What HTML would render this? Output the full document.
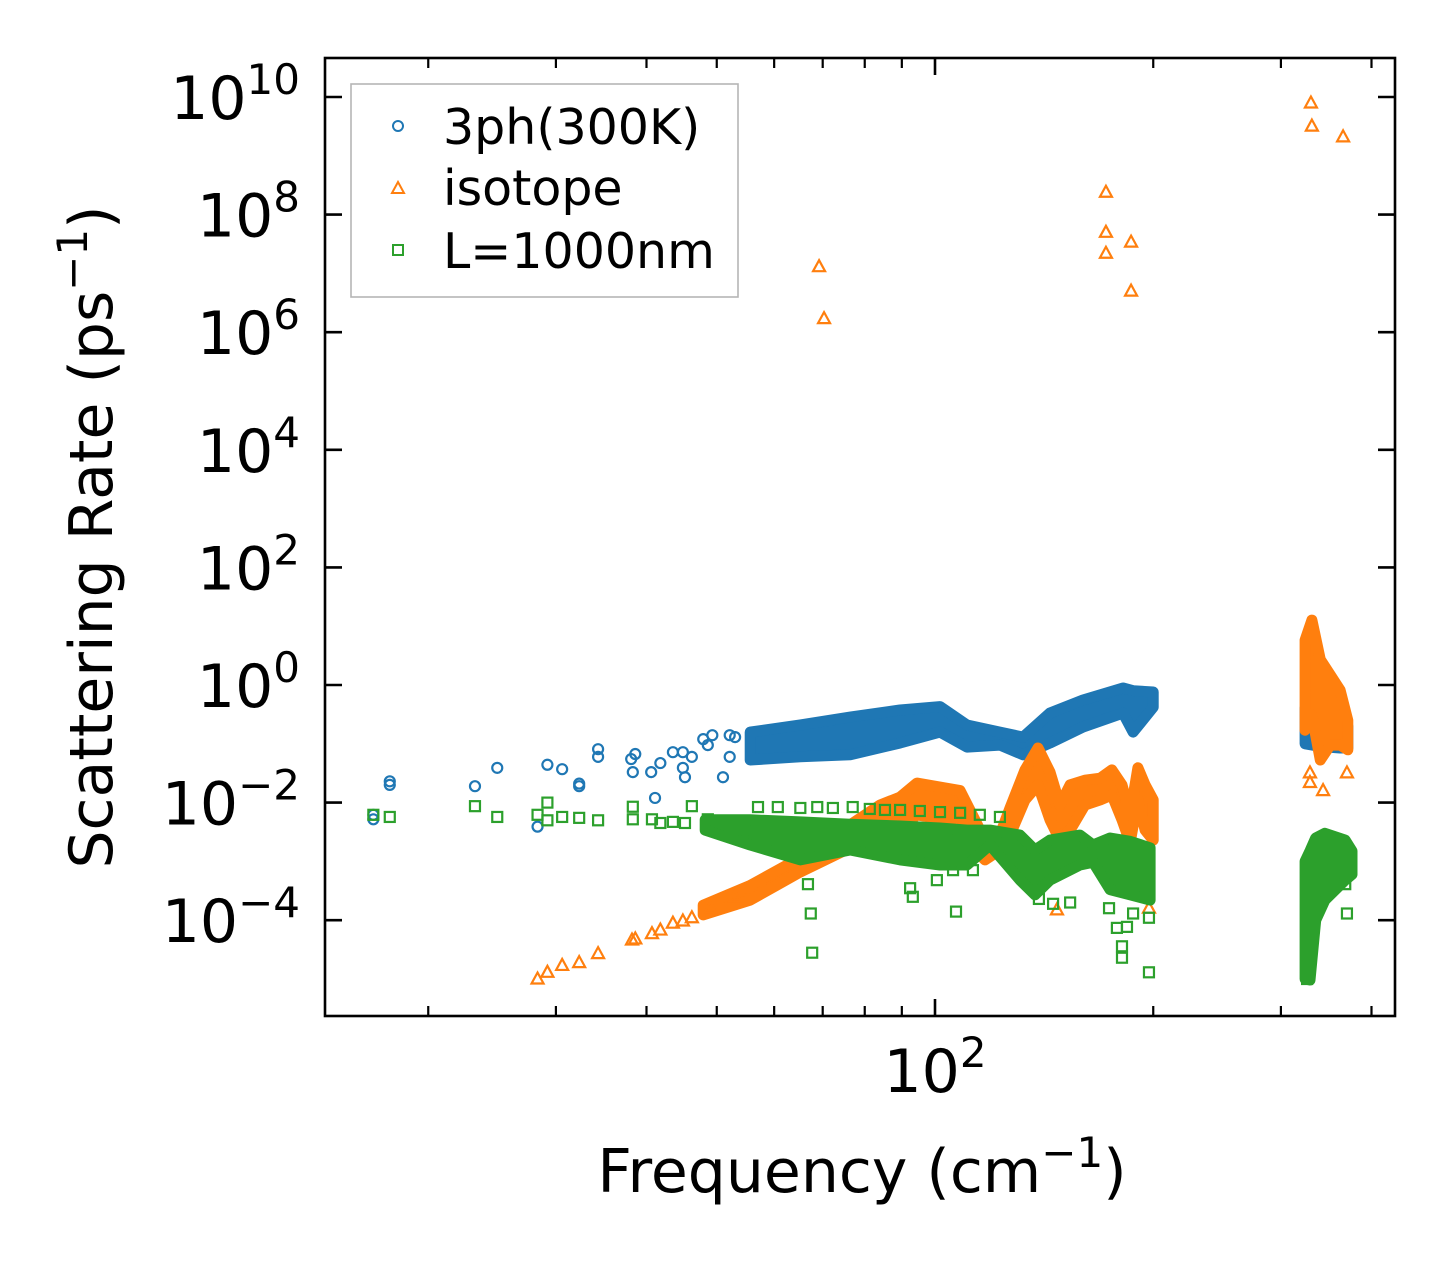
<!DOCTYPE html>
<html>
<head>
<meta charset="utf-8">
<style>
html,body{margin:0;padding:0;background:#fff;}
svg{display:block;}
text{font-family:"DejaVu Sans","Liberation Sans",sans-serif;fill:#000;}
</style>
</head>
<body>
<svg id="chart" width="1455" height="1265" viewBox="0 0 1455 1265" xmlns="http://www.w3.org/2000/svg">
  <rect x="0" y="0" width="1455" height="1265" fill="#fff"/>
  <g id="marks"></g>
  <g id="axes"></g>
  <text x="862" y="1192" font-size="60" text-anchor="middle">Frequency (cm<tspan font-size="42" dy="-25">−1</tspan><tspan dy="25">)</tspan></text>
  <text transform="translate(112,537) rotate(-90)" font-size="60" text-anchor="middle">Scattering Rate (ps<tspan font-size="42" dy="-25">−1</tspan><tspan dy="25">)</tspan></text>
  <g>
    <rect x="351" y="84" width="387" height="213" fill="#fff" stroke="#b5b5b5" stroke-width="1.6"/>
    <circle cx="398" cy="126" r="5" fill="none" stroke="#1f77b4" stroke-width="2"/>
    <text x="443" y="144" font-size="49">3ph(300K)</text>
    <polygon points="398,182 404,193 392,193" fill="none" stroke="#ff7f0e" stroke-width="2"/>
    <text x="443" y="205" font-size="49">isotope</text>
    <rect x="393" y="245" width="10" height="10" fill="none" stroke="#2ca02c" stroke-width="2"/>
    <text x="443" y="268" font-size="49">L=1000nm</text>
  </g>
</svg>
<script>
// ---------- data ----------
const blueFreq = [16.8,16.8,17.7,17.7,23.2,24.9,28.3,29.2,30.6,32.3,32.3,34.3,34.3,38.1,38.6,38.3,41.1,40.6,41.8,43.5,44.9,46.2,44.9,45.2,49.3,48.6,52.1,52.1,51.0,53.0,47.9];
const blueRate = [5.2e-3,6.2e-3,2.0e-2,2.3e-2,1.9e-2,3.9e-2,3.9e-3,4.4e-2,3.7e-2,1.9e-2,2.1e-2,8.1e-2,6.0e-2,5.5e-2,6.7e-2,3.3e-2,1.2e-2,3.3e-2,4.7e-2,7.2e-2,7.2e-2,6.0e-2,3.9e-2,2.7e-2,0.14,9.5e-2,0.14,6.0e-2,2.7e-2,0.13,0.12];
const blueBandFreq = [55.6,65.2,76.4,89.5,101.6,110.7,122.9,132.3,144.1,160,181.7,187.6,200];
const blueBandLo = [0.053,0.060,0.065,0.103,0.158,0.088,0.095,0.065,0.103,0.193,0.334,0.158,0.42];
const blueBandHi = [0.158,0.209,0.286,0.376,0.43,0.209,0.158,0.13,0.334,0.556,0.89,0.8,0.76];
const blueBand2Freq = [324,340,362,371];
const blueBand2Lo = [0.1,0.09,0.085,0.085];
const blueBand2Hi = [0.4,0.3,0.25,0.2];

const isoFreq = [28.3,29.2,30.6,32.3,34.3,38.2,38.6,40.7,41.8,43.5,44.9,46.2,49.0,52.1,53.0,55.0,330,331,365.5,172.1,172.1,172.1,186.4,186.4,69.2,70.3,329,329,343,370,147.3,197.3];
const isoRate = [1.0e-5,1.3e-5,1.7e-5,1.9e-5,2.7e-5,4.6e-5,4.8e-5,5.9e-5,6.8e-5,8.9e-5,9.7e-5,1.1e-4,1.6e-4,2.0e-4,2.5e-4,3.2e-4,7.9e9,3.2e9,2.1e9,2.4e8,5.0e7,2.2e7,3.4e7,5.0e6,1.3e7,1.7e6,0.032,0.022,0.016,0.032,1.5e-4,1.6e-4];
const isoBandFreq = [47.9,55.6,65.2,76.4,84,89.5,94.4,103.2,108.3,113.5,117.2,122.9,126.9,133.1,138.7,144.1,148.7,153.6,161,169,175.4,181.1,185.8,190.5,194.9,200];
const isoBandHi = [1.8e-4,3.9e-4,1.15e-3,4.2e-3,9.1e-3,1.24e-2,2.15e-2,1.78e-2,1.6e-2,5.1e-3,2.3e-3,2.8e-3,8.1e-3,3.6e-2,8.5e-2,3.3e-2,9.1e-3,2.0e-2,2.4e-2,2.6e-2,3.6e-2,2.0e-2,6.2e-3,3.9e-2,2.0e-2,1.11e-2];
const isoBandLo = [1.23e-4,2.2e-4,6.6e-4,1.7e-3,2.3e-3,3.4e-3,6.2e-3,5.1e-3,5.5e-3,1.56e-3,1.06e-3,1.56e-3,2.8e-3,1.11e-2,2.0e-2,5.1e-3,2.3e-3,3.4e-3,9.1e-3,1.11e-2,1.35e-2,5.1e-3,2.1e-3,1.11e-2,3.4e-3,2.3e-3];
const isoBand2Freq = [324,331,340,351,362,371];
const isoBand2Lo = [0.17,0.31,0.053,0.095,0.095,0.079];
const isoBand2Hi = [5.8,12.7,2.7,1.48,0.82,0.25];

const bndFreq = [16.8,17.7,23.2,24.9,28.3,29.2,29.2,30.6,32.3,34.3,38.3,38.3,40.7,41.8,43.5,45.2,46.2,48.6,52.1,54.7,
  57,60.7,65.2,68.8,72.3,77,81.3,85.3,89.5,95.3,101.6,108.3,115.3,122.9,
  66.8,67.4,67.7,92.4,93.2,100.6,106.9,112.8,105.9,139.1,145.5,153.6,173.8,178.2,181.1,181.1,197.3,197.3,184,187.6,
  370,368,329,326];
const bndRate = [6.2e-3,5.7e-3,8.7e-3,5.7e-3,6.2e-3,1.0e-2,5.0e-3,5.7e-3,5.5e-3,5.0e-3,8.5e-3,5.2e-3,5.2e-3,4.5e-3,4.7e-3,4.5e-3,8.7e-3,5.2e-3,4.2e-3,3.2e-3,
  8.4e-3,8.4e-3,8.1e-3,8.4e-3,8.1e-3,8.4e-3,7.8e-3,7.5e-3,7.5e-3,7.2e-3,6.9e-3,6.7e-3,6.2e-3,5.7e-3,
  4.1e-4,1.3e-4,2.8e-5,3.5e-4,2.5e-4,4.8e-4,1.4e-4,7.1e-4,7.1e-4,2.3e-4,1.9e-4,2.0e-4,1.6e-4,7.4e-5,3.6e-5,2.3e-5,1.3e-5,1.1e-4,7.7e-5,1.3e-4,
  1.3e-4,4.1e-4,2.3e-5,1.0e-5];
const bndBandFreq = [48.2,55.6,65.2,76.4,89.5,101.6,110.7,119.1,131,137.4,144.1,158.5,165.2,174.4,185.8,198];
const bndBandHi = [5.1e-3,5.1e-3,4.7e-3,4.3e-3,4.0e-3,3.7e-3,3.4e-3,3.4e-3,2.8e-3,1.56e-3,2.3e-3,2.8e-3,1.9e-3,2.5e-3,2.2e-3,1.7e-3];
const bndBandLo = [3.4e-3,1.9e-3,1.06e-3,1.56e-3,1.06e-3,8.7e-4,8.7e-4,1.9e-3,4.8e-4,2.7e-4,4.8e-4,8.7e-4,9.7e-4,3.3e-4,2.7e-4,2.2e-4];
const bndBand2Freq = [324,329,335,345,368,376];
const bndBand2Hi = [1.0e-3,1.5e-3,2.5e-3,3.0e-3,2.3e-3,1.5e-3];
const bndBand2Lo = [1.0e-5,9.6e-6,1.0e-4,2.2e-4,4.8e-4,6.0e-4];

const yTickExps = [-4,-2,0,2,4,6,8,10];
const xMinorTicks = [20,30,40,50,60,70,80,90,200,300,400];
const xMajorTicks = [100];

// ---------- axes ----------
const L=325,R=1395,T=58,B=1016;
function xs(f){return 935+725*Math.log10(f/100);}
function ys(v){return 685-58.8*Math.log10(v);}
const NS="http://www.w3.org/2000/svg";
const marks=document.getElementById('marks');
const axes=document.getElementById('axes');
function mk(tag,attrs,parent){const e=document.createElementNS(NS,tag);for(const k in attrs)e.setAttribute(k,attrs[k]);parent.appendChild(e);return e;}

function band(fr,lo,hi,color,name){
  const pts=[];
  for(let i=0;i<fr.length;i++)pts.push(xs(fr[i]).toFixed(1)+','+ys(hi[i]).toFixed(1));
  for(let i=fr.length-1;i>=0;i--)pts.push(xs(fr[i]).toFixed(1)+','+ys(lo[i]).toFixed(1));
  const p=mk('polygon',{points:pts.join(' '),fill:color,stroke:color,'stroke-width':11,'stroke-linejoin':'round'},marks);
  
  
}
function circles(fr,v,color,name){
  for(let i=0;i<fr.length;i++){
    const c=mk('circle',{cx:xs(fr[i]),cy:ys(v[i]),r:5,fill:'none',stroke:color,'stroke-width':2.2},marks);
    
    
  }
}
function tris(fr,v,color,name){
  for(let i=0;i<fr.length;i++){
    const x=xs(fr[i]),y=ys(v[i]);
    const t=mk('polygon',{points:`${x},${y-6.5} ${x+6},${y+4.5} ${x-6},${y+4.5}`,fill:'none',stroke:color,'stroke-width':2.2},marks);
    
    
  }
}
function squares(fr,v,color,name){
  for(let i=0;i<fr.length;i++){
    const s=mk('rect',{x:xs(fr[i])-5,y:ys(v[i])-5,width:10,height:10,fill:'none',stroke:color,'stroke-width':2.2},marks);
    
    
  }
}
const BLUE='#1f77b4',ORANGE='#ff7f0e',GREEN='#2ca02c';
band(blueBandFreq,blueBandLo,blueBandHi,BLUE,'3ph-dense-band');
band(blueBand2Freq,blueBand2Lo,blueBand2Hi,BLUE,'3ph-dense-band-high');
circles(blueFreq,blueRate,BLUE,'3ph-point');
band(isoBandFreq,isoBandLo,isoBandHi,ORANGE,'isotope-dense-band');
band(isoBand2Freq,isoBand2Lo,isoBand2Hi,ORANGE,'isotope-dense-band-high');
tris(isoFreq,isoRate,ORANGE,'isotope-point');
band(bndBandFreq,bndBandLo,bndBandHi,GREEN,'boundary-dense-band');
band(bndBand2Freq,bndBand2Lo,bndBand2Hi,GREEN,'boundary-dense-band-high');
squares(bndFreq,bndRate,GREEN,'boundary-point');

// frame
const fr=mk('rect',{x:L,y:T,width:R-L,height:B-T,fill:'none',stroke:'#000','stroke-width':2.6},axes);



yTickExps.forEach(e=>{
  const y=ys(Math.pow(10,e));
  const t1=mk('line',{x1:L,x2:L+17,y1:y,y2:y,stroke:'#000','stroke-width':2.6},axes);
  
  
  const t2=mk('line',{x1:R,x2:R-17,y1:y,y2:y,stroke:'#000','stroke-width':2.6},axes);
  
  
  const tx=mk('text',{x:300,y:y+22,'font-size':60,'text-anchor':'end'},axes);
  
  
  tx.appendChild(document.createTextNode('10'));
  const sp=mk('tspan',{'font-size':42,dy:-25},tx);
  sp.textContent=(e<0?'−':'')+Math.abs(e);
});
xMinorTicks.forEach(f=>{
  const x=xs(f);
  const a=mk('line',{x1:x,x2:x,y1:B,y2:B-10,stroke:'#000','stroke-width':2.2},axes);
  
  
  const b=mk('line',{x1:x,x2:x,y1:T,y2:T+10,stroke:'#000','stroke-width':2.2},axes);
  
  
});
xMajorTicks.forEach(f=>{
  const x=xs(f);
  const a=mk('line',{x1:x,x2:x,y1:B,y2:B-17,stroke:'#000','stroke-width':2.6},axes);
  
  
  const b=mk('line',{x1:x,x2:x,y1:T,y2:T+17,stroke:'#000','stroke-width':2.6},axes);
  
  
  const tx=mk('text',{x:x,y:1092,'font-size':60,'text-anchor':'middle'},axes);
  
  
  tx.appendChild(document.createTextNode('10'));
  const sp=mk('tspan',{'font-size':42,dy:-25},tx);
  sp.textContent=String(Math.round(Math.log10(f)));
});
</script>
</body>
</html>
